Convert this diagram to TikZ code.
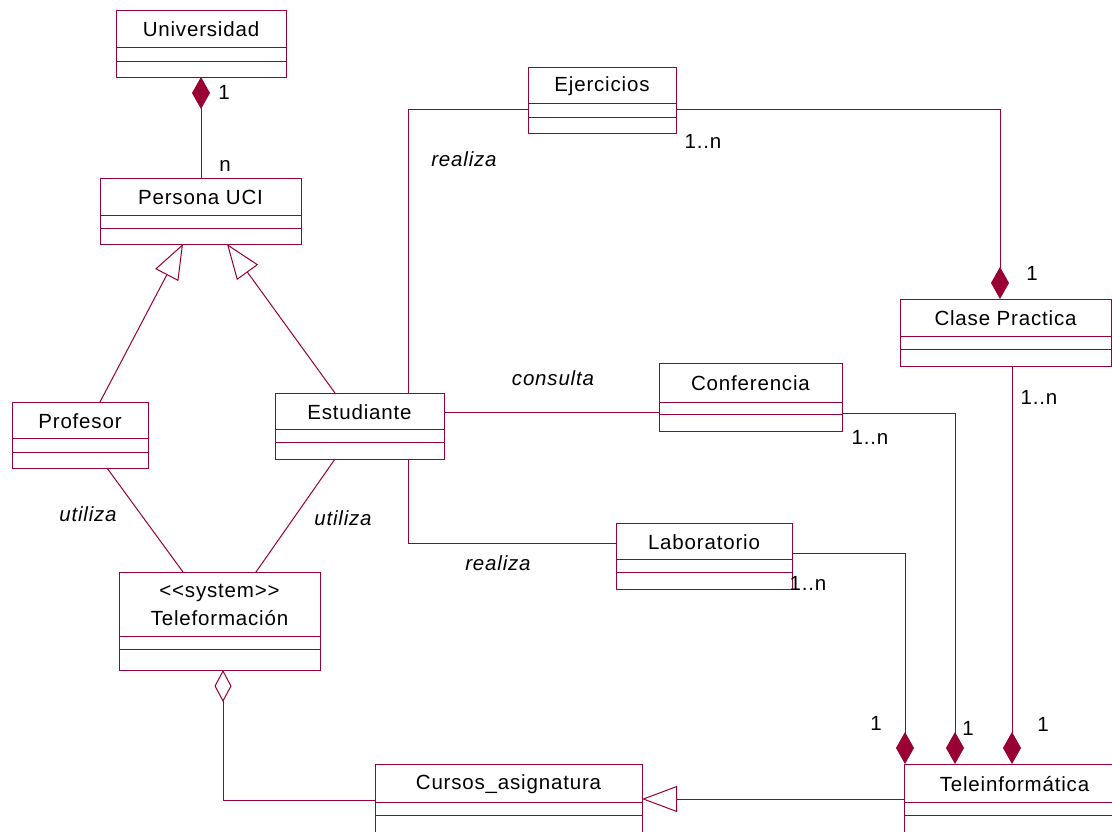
\documentclass[tikz,border=0pt]{standalone}
\usepackage{fontspec}
\setmainfont{Liberation Sans}[LetterSpace=4]
\usetikzlibrary{arrows.meta}
\definecolor{rose}{RGB}{153,0,51}
\tikzset{
  ln/.style={draw=rose, line width=1pt},
  cls/.style={draw=rose, line width=1pt, fill=white, inner sep=0pt, outer sep=0pt},
  ctext/.style={inner sep=0pt, font=\fontsize{20.5}{28}\selectfont, align=center, text=black},
  lbl/.style={inner sep=0pt, font=\fontsize{20.5}{25}\selectfont, text=black},
  ilbl/.style={inner sep=0pt, font=\fontsize{20.5}{25}\selectfont\itshape, text=black},
  fdia/.style={-{Diamond[length=32pt,width=18pt,fill=rose]}},
  odia/.style={{Diamond[open,length=32pt,width=17pt]}-},
  sdia/.style={{Diamond[length=32pt,width=18pt,fill=rose]}-},
  gen/.style={-{Triangle[open,length=35pt,width=26pt]}},
}
\newcommand\umlcls[8]{%
  \node[cls, minimum width={#4-#2}, minimum height={#5-#3}] (#1) at ({(#2+#4)/2},{(#3+#5)/2}) {};
  \node[ctext] (#1-name) at ({(#2+#4)/2},{(#3+#6)/2+1}) {#8};
  \draw[ln] (#2,#6) -- (#4,#6) (#2,#7) -- (#4,#7);}
\begin{document}
\begin{tikzpicture}[x=1pt,y=-1pt]
\useasboundingbox (0,0) rectangle (1112,831);
\clip (0,0) rectangle (1112,831);
% classes
\umlcls{univ}{116}{10}{286}{77}{47}{61}{Universidad}
\umlcls{persona}{100}{178}{301}{244}{215}{228}{Persona UCI}
\umlcls{prof}{12}{402}{148}{468}{438}{452}{Profesor}
\umlcls{est}{275}{393}{444}{459}{429}{442}{Estudiante}
\umlcls{telef}{119}{572}{320}{670}{636}{649}{<{}<system>{}>\\Teleformación}
\umlcls{ejer}{528}{67}{676}{133}{103}{117}{Ejercicios}
\umlcls{clase}{900}{299}{1111}{366}{336}{349}{Clase Practica}
\umlcls{conf}{659}{363}{842}{431}{402}{414}{Conferencia}
\umlcls{lab}{616}{523}{792}{589}{559}{572}{Laboratorio}
\umlcls{cursos}{375}{764}{642}{850}{802}{815}{Cursos\_asignatura}
\umlcls{tele}{904}{764}{1125}{850}{802}{815}{Teleinformática}
% connectors
\draw[ln, sdia] (univ.south) -- (univ.south |- persona.north);
\draw[ln, gen] ([xshift=88pt]prof.north west) -- ([xshift=83pt]persona.south west);
\draw[ln, gen] ([xshift=60pt]est.north west) -- ([xshift=127pt]persona.south west);
\draw[ln] ([xshift=95pt]prof.south west) -- ([xshift=64pt]telef.north west);
\draw[ln] ([xshift=60pt]est.south west) -- ([xshift=137pt]telef.north west);
\draw[ln] ([xshift=133pt]est.north west) |- ([yshift=-42pt]ejer.north west);
\draw[ln, fdia] ([yshift=-42pt]ejer.north east) -| ([xshift=100pt]clase.north west);
\draw[ln] ([yshift=-19pt]est.north east) -- ([yshift=-49pt]conf.north west);
\draw[ln, fdia] ([yshift=-50pt]conf.north east) -| ([xshift=51pt]tele.north west);
\draw[ln] ([xshift=133pt]est.south west) |- ([yshift=-20pt]lab.north west);
\draw[ln, fdia] ([yshift=-30pt]lab.north east) -| ([xshift=1pt]tele.north west);
\draw[ln, fdia] ([xshift=112pt]clase.south west) -- ([xshift=108pt]tele.north west);
\draw[ln, odia] ([xshift=104pt]telef.south west) |- ([yshift=-36pt]cursos.north west);
\draw[ln, gen] ([yshift=-35pt]tele.north west) -- ([yshift=-35pt]cursos.north east);
% labels
\node[lbl] (l1) at (224,92) {1};
\node[lbl] (l2) at (225,166) {n};
\node[ilbl] (l3) at (464,159) {realiza};
\node[lbl] (l4) at (703,141) {1..n};
\node[lbl] (l5) at (1032,273) {1};
\node[ilbl] (l6) at (553,378) {consulta};
\node[lbl] (l7) at (870,437) {1..n};
\node[lbl] (l8) at (1039,397) {1..n};
\node[lbl] (l9) at (808,583) {1..n};
\node[ilbl] (l10) at (498,563) {realiza};
\node[ilbl] (l11) at (88,514) {utiliza};
\node[ilbl] (l12) at (343,518) {utiliza};
\node[lbl] (l13) at (876,723) {1};
\node[lbl] (l14) at (968,728) {1};
\node[lbl] (l15) at (1043,724) {1};
\end{tikzpicture}
\end{document}
